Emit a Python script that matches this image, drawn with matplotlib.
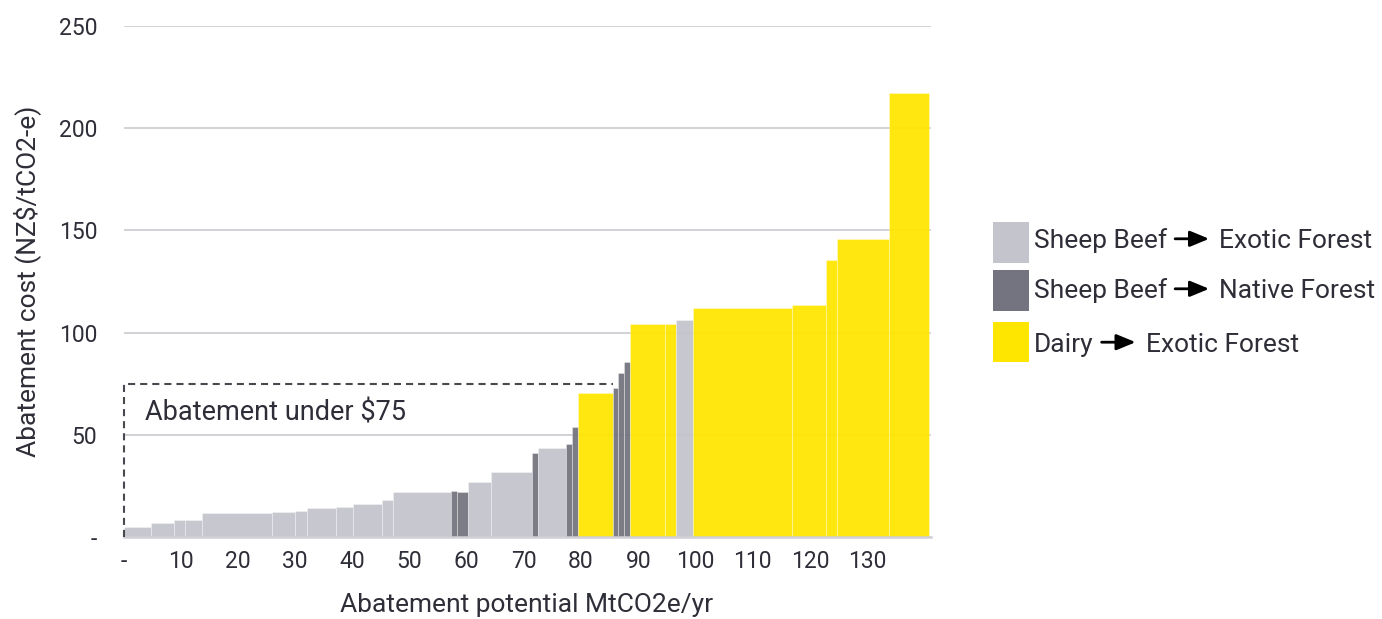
#Marginal abatement cost curve: land use change from sheep/beef and dairy to forest.
import numpy as np
import matplotlib.pyplot as plt
from matplotlib.colors import to_rgba
from matplotlib.patches import Rectangle

plt.rcParams['font.family'] = ['Roboto', 'DejaVu Sans']
TextColour = '#2e2e38'

#### Data
#Abatement potential of each block (MtCO2e/yr), in order along the curve.
Potential = [4.8, 4.0, 2.0, 3.0, 12.2, 4.0, 2.1, 5.1, 3.0, 5.0, 2.0, 10.1,
             1.0, 2.0, 4.0, 7.2, 1.0, 4.9, 1.1, 1.0, 6.1, 0.9, 1.0, 1.1,
             6.0, 2.0, 3.0, 17.2, 6.1, 1.9, 9.1, 7.0]
#Abatement cost of each block (NZ$/tCO2-e).
Cost = [4.9, 6.8, 8.1, 8.3, 11.6, 12.1, 12.7, 14.0, 14.8, 16.2, 18.0, 22.0,
        22.5, 22.0, 27.0, 31.9, 41.2, 43.6, 45.6, 53.9, 70.6, 73.0, 80.0, 85.8,
        104.2, 104.2, 106.0, 112.1, 113.5, 135.4, 145.6, 217.2]
#Land use change of each block.
Change = ['SE'] * 12 + ['SN', 'SN', 'SE', 'SE', 'SN', 'SE', 'SN', 'SN', 'DE', 'SN',
                        'SN', 'SN', 'DE', 'DE', 'SE', 'DE', 'DE', 'DE', 'DE', 'DE']

ChangeKeys = ['SE', 'SN', 'DE']
ChangeFrom = ['Sheep Beef', 'Sheep Beef', 'Dairy']
ChangeTo = ['Exotic Forest', 'Native Forest', 'Exotic Forest']
ChangeColours = ['#c4c4cd', '#747480', '#ffe600']

XTicks = list(range(0, 140, 10))
XTickLabels = ['-'] + [str(v) for v in XTicks[1:]]
YTicks = list(range(0, 300, 50))
YTickLabels = ['-'] + [str(v) for v in YTicks[1:]]

Threshold = 75
ThresholdEnd = 85.6
XMax = 141.1

#### Plot
fig = plt.figure(figsize=(13.82, 6.19), dpi=100)
ax = fig.add_axes([123.5 / 1382, 82 / 619, 807 / 1382, 511 / 619])

Left = np.concatenate([[0], np.cumsum(Potential)[:-1]])
ColourLookup = dict(zip(ChangeKeys, ChangeColours))
Faces = [to_rgba(ColourLookup[c], 0.94) for c in Change]
ax.bar(Left, Cost, width=Potential, align='edge', color=Faces,
       edgecolor=(1, 1, 1, 0.45), linewidth=0.5, zorder=2)

#Box around the abatement available below the threshold price.
ax.plot([0, 0, ThresholdEnd], [0, Threshold, Threshold], color='#48484f', lw=1.5,
        ls=(0, (3.4, 2.4)), clip_on=False, zorder=4)
ax.text(3.8, 57, 'Abatement under $75', fontsize=19.5, color=TextColour,
        va='baseline', ha='left', zorder=5)

ax.set_xlim(0, XMax)
ax.set_ylim(0, 250)
ax.set_xticks(XTicks)
ax.set_xticklabels(XTickLabels)
ax.set_yticks(YTicks)
ax.set_yticklabels(YTickLabels)
ax.tick_params(length=0, labelsize=16.5, colors=TextColour)
ax.tick_params(axis='x', pad=9)
ax.tick_params(axis='y', pad=19)
ax.set_axisbelow(True)
ax.yaxis.grid(True, color='#c9c9d0', lw=1.2)
for side in ['top', 'right', 'left']:
    ax.spines[side].set_visible(False)
ax.spines['bottom'].set_color('#d0d0d6')
ax.spines['bottom'].set_linewidth(1.8)
ax.set_xlabel('Abatement potential MtCO2e/yr', fontsize=19, color=TextColour, labelpad=15)
ax.set_ylabel('Abatement cost (NZ$/tCO2-e)', fontsize=19, color=TextColour, labelpad=13)

#### Legend (drawn in pixel coordinates of the figure)
lax = fig.add_axes([0, 0, 1, 1])
lax.set_xlim(0, 1382)
lax.set_ylim(619, 0)
lax.axis('off')
fig.canvas.draw()
Renderer = fig.canvas.get_renderer()

RowTop = [222, 270, 321.7]
RowBase = [248.3, 298.3, 351.7]
for i in range(len(ChangeKeys)):
    lax.add_patch(Rectangle((992.7, RowTop[i]), 36.3, 40.7, color=ChangeColours[i], lw=0))
    T1 = lax.text(1034, RowBase[i], ChangeFrom[i], fontsize=19, color=TextColour, va='baseline')
    Ext = T1.get_window_extent(renderer=Renderer)
    End = lax.transData.inverted().transform((Ext.x1, 0))[0]
    ArrowY = RowBase[i] - 9.5
    lax.annotate('', xy=(End + 42, ArrowY), xytext=(End + 8, ArrowY),
                 arrowprops=dict(arrowstyle='-|>,head_length=0.58,head_width=0.24',
                                 color='black', lw=2, mutation_scale=20,
                                 shrinkA=0, shrinkB=0))
    lax.text(End + 52, RowBase[i], ChangeTo[i], fontsize=19, color=TextColour, va='baseline')

plt.savefig('out.png', dpi=100)
